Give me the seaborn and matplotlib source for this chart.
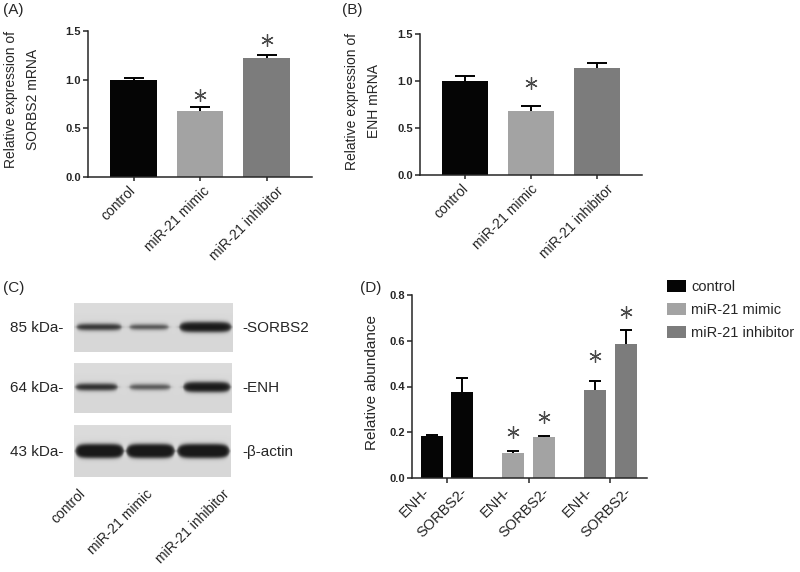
import numpy as np
import pandas as pd
import matplotlib
matplotlib.use("Agg")
import matplotlib.pyplot as plt
import matplotlib.transforms as mtrans
from matplotlib.patches import Patch
import seaborn as sns

# ---------------- data ----------------
groups = ["control", "miR-21 mimic", "miR-21 inhibitor"]

sorbs2_mrna = [1.00, 0.68, 1.22]
sorbs2_mrna_err = [0.02, 0.036, 0.036]
sorbs2_mrna_star = [None, 0.84, 1.41]

enh_mrna = [1.00, 0.68, 1.135]
enh_mrna_err = [0.055, 0.057, 0.06]
enh_mrna_star = [None, 0.975, None]

proteins = ["ENH-", "SORBS2-"]
abund_enh = [0.185, 0.108, 0.386]
abund_enh_err = [0.004, 0.008, 0.036]
abund_enh_star = [None, 0.20, 0.533]
abund_sorbs2 = [0.374, 0.178, 0.587]
abund_sorbs2_err = [0.063, 0.006, 0.058]
abund_sorbs2_star = [None, 0.268, 0.727]

blot_markers = ["85 kDa-", "64 kDa-", "43 kDa-"]
blot_targets = ["-SORBS2", "-ENH", "-\u03b2-actin"]
band_darkness = [[0.68, 0.58, 0.76],
                 [0.70, 0.55, 0.76],
                 [0.78, 0.78, 0.78]]
band_thickness = [[6, 4.5, 10],
                  [6.5, 5, 10],
                  [14, 14, 14]]

# ---------------- style ----------------
sns.set_theme(style="ticks")
plt.rcParams["font.family"] = ["Liberation Sans", "DejaVu Sans"]
plt.rcParams["axes.linewidth"] = 1.1

W, H = 800, 572
fig = plt.figure(figsize=(8, 5.72), dpi=100)


def rect(x0, x1, y0, y1):
    return [x0 / W, 1 - y1 / H, (x1 - x0) / W, (y1 - y0) / H]


def ftext(x, y, s, **kw):
    fig.text(x / W, 1 - y / H, s, **kw)


colors = ["#050505", "#a3a3a3", "#7c7c7c"]
star_color = "#4a4a4a"
STAR = (6, 2, 0)


def style_y(ax, ticks, fmt):
    ax.set_yticks(ticks)
    ax.set_yticklabels([fmt.format(t) for t in ticks], fontsize=8, fontweight="bold")
    ax.tick_params(axis="y", length=3.5, width=1.1, pad=1.5)
    ax.set_ylabel("")
    ax.set_xlabel("")
    sns.despine(ax=ax)


def draw_err_star(ax, xs, vals, errs, stars, capsize):
    vals = np.asarray(vals, float)
    errs = np.asarray(errs, float)
    ax.vlines(xs, vals, vals + errs, color="black", lw=1.4, zorder=3)
    ax.plot(xs, vals + errs, ls="none", marker="_", ms=capsize, mew=1.4,
            color="black", zorder=3)
    for x, s in zip(xs, stars):
        if s is not None:
            ax.plot([x], [s], ls="none", marker=STAR, ms=9, mew=0.9,
                    color=star_color, clip_on=False, zorder=4)


def bar_panel(ax, vals, errs, stars, label_dx):
    df = pd.DataFrame({"group": groups, "value": vals})
    sns.barplot(data=df, x="group", y="value", hue="group", palette=colors,
                width=0.7, saturation=1, legend=False, linewidth=0, ax=ax)
    xs = np.arange(len(groups))
    draw_err_star(ax, xs, vals, errs, stars, capsize=14)
    ax.set_xlim(-0.684, 2.68)
    ax.set_ylim(0, 1.5)
    style_y(ax, [0, 0.5, 1.0, 1.5], "{:.1f}")
    ax.set_xticks(xs)
    ax.set_xticklabels(groups, rotation=45, ha="right", fontsize=10)
    ax.tick_params(axis="x", length=3, width=1.1, pad=2)
    for lab, dx in zip(ax.get_xticklabels(), label_dx):
        lab.set_transform(lab.get_transform() +
                          mtrans.ScaledTranslation(dx / 100, 0, fig.dpi_scale_trans))


# ---------------- panel A ----------------
axA = fig.add_axes(rect(88, 312, 31, 177))
bar_panel(axA, sorbs2_mrna, sorbs2_mrna_err, sorbs2_mrna_star, [5, 12, 19])
ftext(22, 99, "Relative expression of\nSORBS2 mRNA", rotation=90, ha="center",
      va="center", fontsize=10, linespacing=1.75, multialignment="center")

# ---------------- panel B ----------------
axB = fig.add_axes(rect(420, 642, 34, 175))
bar_panel(axB, enh_mrna, enh_mrna_err, enh_mrna_star, [6, 9, 19])
ftext(363, 101, "Relative expression of\nENH mRNA", rotation=90, ha="center",
      va="center", fontsize=10, linespacing=1.75, multialignment="center")

# ---------------- panel D ----------------
axD = fig.add_axes(rect(412, 647, 295, 478))
dfD = pd.DataFrame({
    "group": groups * 2,
    "protein": [proteins[0]] * 3 + [proteins[1]] * 3,
    "value": abund_enh + abund_sorbs2,
})
sns.barplot(data=dfD, x="group", y="value", hue="protein",
            palette=["black", "black"], width=0.75, gap=0.28, saturation=1,
            legend=False, linewidth=0, ax=axD)
for cont in axD.containers:
    for i, p in enumerate(cont.patches):
        p.set_facecolor(colors[i])
        p.set_edgecolor("none")
xs_enh = [p.get_x() + p.get_width() / 2 for p in axD.containers[0].patches]
xs_sor = [p.get_x() + p.get_width() / 2 for p in axD.containers[1].patches]
draw_err_star(axD, xs_enh, abund_enh, abund_enh_err, abund_enh_star, capsize=9)
draw_err_star(axD, xs_sor, abund_sorbs2, abund_sorbs2_err, abund_sorbs2_star, capsize=9)
axD.set_xlim(-0.43, 2.45)
axD.set_ylim(0, 0.8)
style_y(axD, [0, 0.2, 0.4, 0.6, 0.8], "{:.1f}")
tick_pos = []
tick_lab = []
for a, b in zip(xs_enh, xs_sor):
    tick_pos += [a, b]
    tick_lab += proteins
axD.set_xticks(tick_pos)
axD.set_xticklabels(tick_lab, rotation=45, ha="right", fontsize=10.5)
axD.tick_params(axis="x", which="major", length=0, pad=5)
for lab, dx in zip(axD.get_xticklabels(), [0, 8, 0, 8, 0, 8]):
    lab.set_transform(lab.get_transform() +
                      mtrans.ScaledTranslation(dx / 100, 0, fig.dpi_scale_trans))
axD.set_xticks(np.arange(len(groups)), minor=True)
axD.tick_params(axis="x", which="minor", length=3.5, width=1.1)
ftext(372, 382, "Relative abundance", rotation=90, ha="center", va="center",
      fontsize=11)

handles = [Patch(facecolor=c, edgecolor="none") for c in colors]
fig.legend(handles, groups, loc="upper left",
           bbox_to_anchor=(667 / W, 1 - 280 / H), frameon=False, fontsize=10.5,
           handlelength=1.3, handleheight=0.85, handletextpad=0.35,
           labelspacing=0.62, borderpad=0, borderaxespad=0)

# ---------------- panel C (western blot) ----------------
axC = fig.add_axes(rect(0, 340, 290, 572))
axC.set_xlim(0, 340)
axC.set_ylim(572, 290)
axC.axis("off")

box_y = [(303, 352), (363, 413), (425, 477)]
box_x = [(74, 233), (74, 232), (74, 231)]
band_yc = [327, 387, 451]
lanes = [[(76, 122), (129, 169), (179, 232)],
         [(75, 118), (129, 171), (183, 231)],
         [(75, 124), (126, 175), (177, 230)]]
res = 4
for r in range(3):
    x0, x1 = box_x[r]
    y0, y1 = box_y[r]
    xx = np.linspace(x0, x1, int((x1 - x0) * res))
    yy = np.linspace(y0, y1, int((y1 - y0) * res))
    X, Y = np.meshgrid(xx, yy)
    img = np.full(X.shape, 0.86)
    img -= 0.02 * (Y - y0) / (y1 - y0)
    for l in range(3):
        lx0, lx1 = lanes[r][l]
        xc = (lx0 + lx1) / 2
        hw = (lx1 - lx0) / 2
        u = np.clip(np.abs(X - xc) / hw, 0, 1)
        shape = np.sqrt(np.clip(1 - u ** 6, 0, 1))
        ht = band_thickness[r][l] / 2 * shape
        prof_y = 1 / (1 + np.exp((np.abs(Y - band_yc[r]) - ht) / 1.1))
        prof_x = 1 / (1 + np.exp((np.abs(X - xc) - hw) / 1.4))
        img -= band_darkness[r][l] * prof_y * prof_x
    img = np.clip(img, 0.1, 1)
    axC.imshow(img, cmap="gray", vmin=0, vmax=1, extent=(x0, x1, y1, y0),
               interpolation="bilinear", aspect="auto")
    axC.text(63, band_yc[r] + 1, blot_markers[r], ha="right", va="center",
             fontsize=11)
    axC.text(242, band_yc[r] + 1, blot_targets[r], ha="left", va="center",
             fontsize=11)

for x, g in zip([88, 155, 232], groups):
    axC.text(x, 487, g, rotation=45, ha="right", va="top", fontsize=10)

# panel letters
ftext(3, 10, "(A)", ha="left", va="center", fontsize=11)
ftext(342, 10, "(B)", ha="left", va="center", fontsize=11)
ftext(3, 288, "(C)", ha="left", va="center", fontsize=11)
ftext(360, 288, "(D)", ha="left", va="center", fontsize=11)

fig.savefig("out.png", dpi=100)
